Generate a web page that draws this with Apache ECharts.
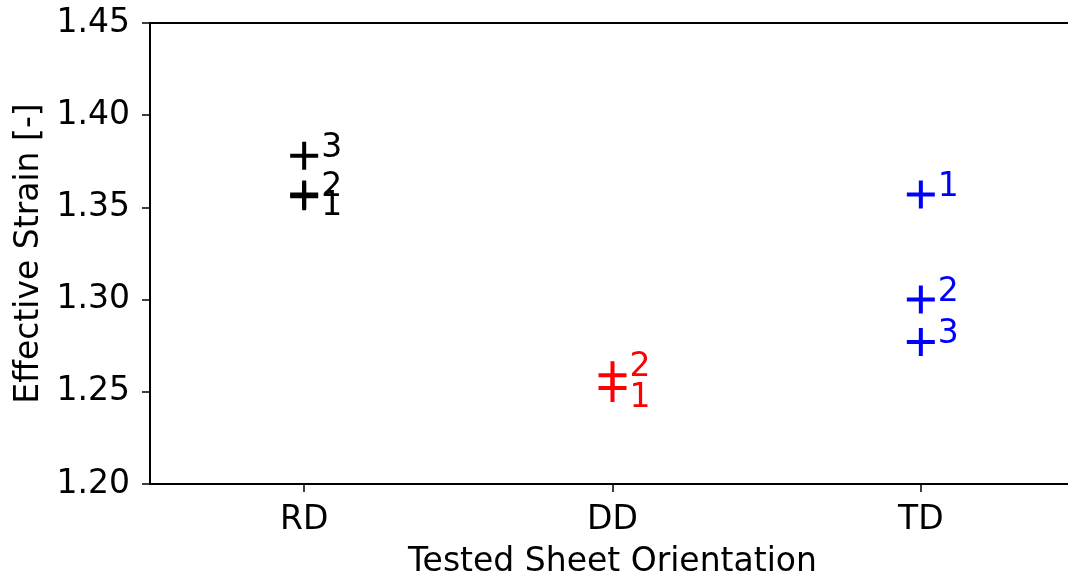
<!DOCTYPE html>
<html>
<head>
<meta charset="utf-8">
<script src="https://cdn.jsdelivr.net/npm/echarts@6/dist/echarts.min.js"></script>
<style>html,body{margin:0;padding:0;background:#fff;}#c{width:1068px;height:576px;}</style>
</head>
<body>
<div id="c"></div>
<script>
const categories = ['RD', 'DD', 'TD'];
const rdValues = [1.356, 1.357, 1.378];
const ddValues = [1.252, 1.259];
const tdValues = [1.357, 1.300, 1.277];
const yTicks = { min: 1.20, max: 1.45, interval: 0.05 };

const FONT = 'DejaVu Sans';
const PLUS = 'path://M-2,-14 H2 V-2 H14 V2 H2 V14 H-2 V2 H-14 V-2 H-2 Z';

function makeSeries(cat, values, color) {
  const ci = categories.indexOf(cat);
  return {
    type: 'scatter',
    symbol: PLUS,
    symbolSize: 28,
    itemStyle: { color: color, opacity: 1 },
    data: values.map((v, i) => {
      const below = (i === 0 && cat !== 'TD');
      return {
        value: [ci, v],
        label: {
          show: true,
          formatter: String(i + 1),
          position: 'inside',
          align: 'left',
          verticalAlign: below ? 'top' : 'bottom',
          offset: below ? [17, -6] : [17, 9],
          color: color,
          fontFamily: FONT,
          fontSize: 33
        }
      };
    }),
    z: 3
  };
}

const chart = echarts.init(document.getElementById('c'), null, { renderer: 'canvas' });
chart.setOption({
  animation: false,
  backgroundColor: '#fff',
  grid: { left: 150, top: 23, width: 925, height: 461, outerBoundsMode: 'none', containLabel: false, show: true, borderColor: '#000', borderWidth: 2, backgroundColor: 'transparent' },
  xAxis: {
    type: 'category',
    data: categories,
    boundaryGap: true,
    name: 'Tested Sheet Orientation',
    nameLocation: 'middle',
    nameGap: 62,
    nameTextStyle: { fontFamily: FONT, fontSize: 33, color: '#000' },
    axisLine: { show: true, lineStyle: { color: '#000', width: 2 } },
    axisTick: { show: true, alignWithLabel: true, length: 8, lineStyle: { color: '#000', width: 1.5 } },
    axisLabel: { fontFamily: FONT, fontSize: 33, color: '#000', margin: 20 },
    splitLine: { show: false }
  },
  yAxis: {
    type: 'value',
    min: yTicks.min,
    max: yTicks.max,
    interval: yTicks.interval,
    name: 'Effective Strain [-]',
    nameLocation: 'middle',
    nameGap: 104,
    nameTextStyle: { fontFamily: FONT, fontSize: 33, color: '#000' },
    axisLine: { show: true, lineStyle: { color: '#000', width: 2 } },
    axisTick: { show: true, length: 8, lineStyle: { color: '#000', width: 1.5 } },
    axisLabel: { fontFamily: FONT, fontSize: 33, color: '#000', margin: 20, formatter: v => v.toFixed(2) },
    splitLine: { show: false }
  },
  series: [
    makeSeries('RD', rdValues, '#000000'),
    makeSeries('DD', ddValues, '#ff0000'),
    makeSeries('TD', tdValues, '#0000ff')
  ]
});
</script>
</body>
</html>
